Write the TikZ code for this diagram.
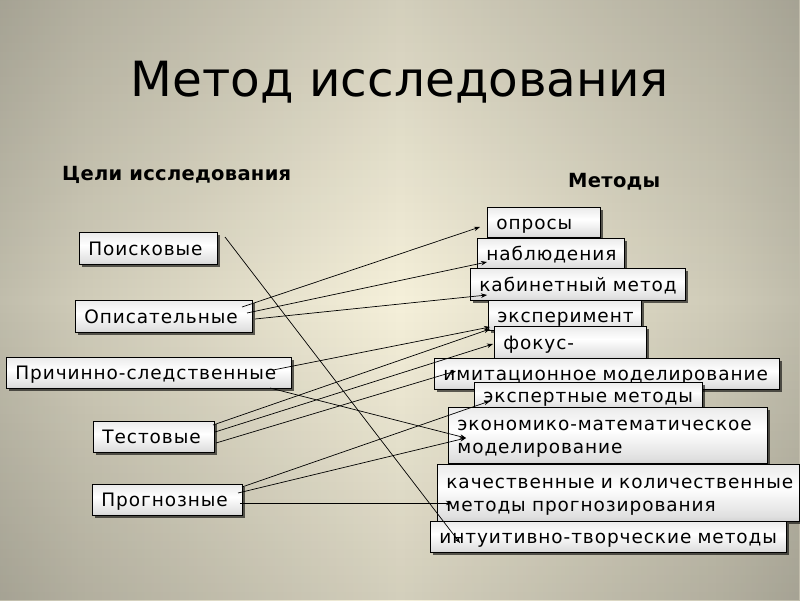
\documentclass[tikz,border=0pt]{standalone}
\usepackage{fontspec}
\setmainfont{DejaVu Sans}
\newfontfamily\boxfont[LetterSpace=5]{DejaVu Sans}
\newfontfamily\headfont[LetterSpace=1.5]{DejaVu Sans}
\usetikzlibrary{arrows.meta,shadows,calc,fadings}
\definecolor{bgA}{HTML}{8C8A7E}
\definecolor{bgB}{HTML}{A3A193}
\definecolor{bgC}{HTML}{CFCBB8}
\definecolor{bgD}{HTML}{F5F0DA}
\pgfdeclarehorizontalshading{bgshade}{100bp}{color(0bp)=(bgA); color(15bp)=(bgB); color(30bp)=(bgC); color(50bp)=(bgD); color(70bp)=(bgC); color(85bp)=(bgB); color(100bp)=(bgA)}
\pgfdeclareverticalshading{boxshade}{100bp}{color(0bp)=(black!42); color(30bp)=(black!12); color(55bp)=(white); color(100bp)=(black!18)}
\tikzfading[name=vfade, top color=transparent!86, bottom color=transparent!86, middle color=transparent!100]
\tikzset{
  box/.style={draw=black, line width=0.8pt, shade, shading=boxshade, anchor=north west,
    inner xsep=9pt, inner ysep=0pt, align=left, text height=16pt, text depth=2pt,
    font=\boxfont\fontsize{18.5}{23}\selectfont,
    drop shadow={shadow xshift=3pt, shadow yshift=-3pt, fill=black, opacity=0.6}},
  twoline/.style={text depth=25pt},
  conn/.style={line width=0.7pt, -{Stealth[length=6pt,width=4.5pt]}},
  heading/.style={anchor=base west, inner sep=0pt, font=\headfont\bfseries\fontsize{19.5}{23}\selectfont}
}
\begin{document}
\begin{tikzpicture}[x=1pt,y=-1pt]
\useasboundingbox (0,0) rectangle (800,600);
\shade[shading=bgshade] (0,0) rectangle (800,600);
\fill[black, path fading=vfade] (0,0) rectangle (800,600);

\node[anchor=base, inner sep=0pt, font=\fontsize{48.5}{58}\selectfont] (title) at (400,96) {Метод исследования};
\node[heading] (hgoals) at (62,180) {Цели исследования};
\node[heading] (hmeth) at (568,187) {Методы};

% left boxes
\node[box, text width=120pt, minimum height=32pt] (P1) at (79,232) {Поисковые};
\node[box, text width=159pt, minimum height=32pt] (P2) at (75,300) {Описательные};
\node[box, text width=267pt, minimum height=31pt] (P3) at (6,357) {\mbox{Причинно-следственные}};
\node[box, text width=103pt, minimum height=31pt] (P4) at (93,421) {Тестовые};
\node[box, text width=132pt, minimum height=31pt] (P5) at (92,484) {Прогнозные};

% right boxes
\node[box, text width=95pt, minimum height=30pt] (R1) at (487,207) {опросы};
\node[box, text width=129pt, minimum height=30pt] (R2) at (477,238) {наблюдения};
\node[box, text width=197pt, minimum height=32pt] (R3) at (470,268) {\mbox{кабинетный метод}};
\node[box, text width=135pt, minimum height=30pt] (R4) at (488,300) {эксперимент};
\node[box, text width=134pt, minimum height=32pt] (R5) at (494,326) {фокус-};
\node[box, text width=327pt, minimum height=31pt] (R6) at (434,358) {\mbox{имитационное моделирование}};
\node[box, text width=210pt, minimum height=26pt] (R7) at (474,382) {\mbox{экспертные методы}};
\node[box, twoline, text width=301pt, minimum height=56pt] (R8) at (448,407) {\mbox{экономико-математическое}\\\mbox{моделирование}};
\node[box, twoline, text width=344pt, minimum height=57pt] (R9) at (437,464) {\mbox{качественные и количественные}\\\mbox{методы прогнозирования}};
\node[box, text width=338pt, minimum height=31pt] (R10) at (430,521) {\mbox{интуитивно-творческие методы}};

% connectors
\draw[conn] ($(P1.north west)+(146,5)$) -- ($(R10.north west)+(30,22)$);
\draw[conn] ($(P2.north west)+(167,7)$) -- ($(R1.north west)+(-7,20)$);
\draw[conn] ($(P2.north west)+(172,13)$) -- ($(R2.north west)+(10,24)$);
\draw[conn] ($(P2.north west)+(180,19)$) -- ($(R3.north west)+(17,27)$);
\draw[conn] ($(P3.north west)+(267,13)$) -- ($(R4.north west)+(2,27)$);
\draw[conn] ($(P3.north west)+(264,31)$) -- ($(R8.north west)+(18,31)$);
\draw[conn] ($(P4.north west)+(120,4)$) -- ($(R4.north west)+(2,29)$);
\draw[conn] ($(P4.north west)+(122,11)$) -- ($(R5.north west)+(-1,18)$);
\draw[conn] ($(P4.north west)+(123,22)$) -- ($(R6.north west)+(22,13)$);
\draw[conn] ($(P5.north west)+(150,3)$) -- ($(R7.north west)+(16,19)$);
\draw[conn] ($(P5.north west)+(146,9)$) -- ($(R8.north west)+(18,31)$);
\draw[conn] ($(P5.north west)+(148,19)$) -- ($(R9.north west)+(15,39)$);
\end{tikzpicture}
\end{document}
